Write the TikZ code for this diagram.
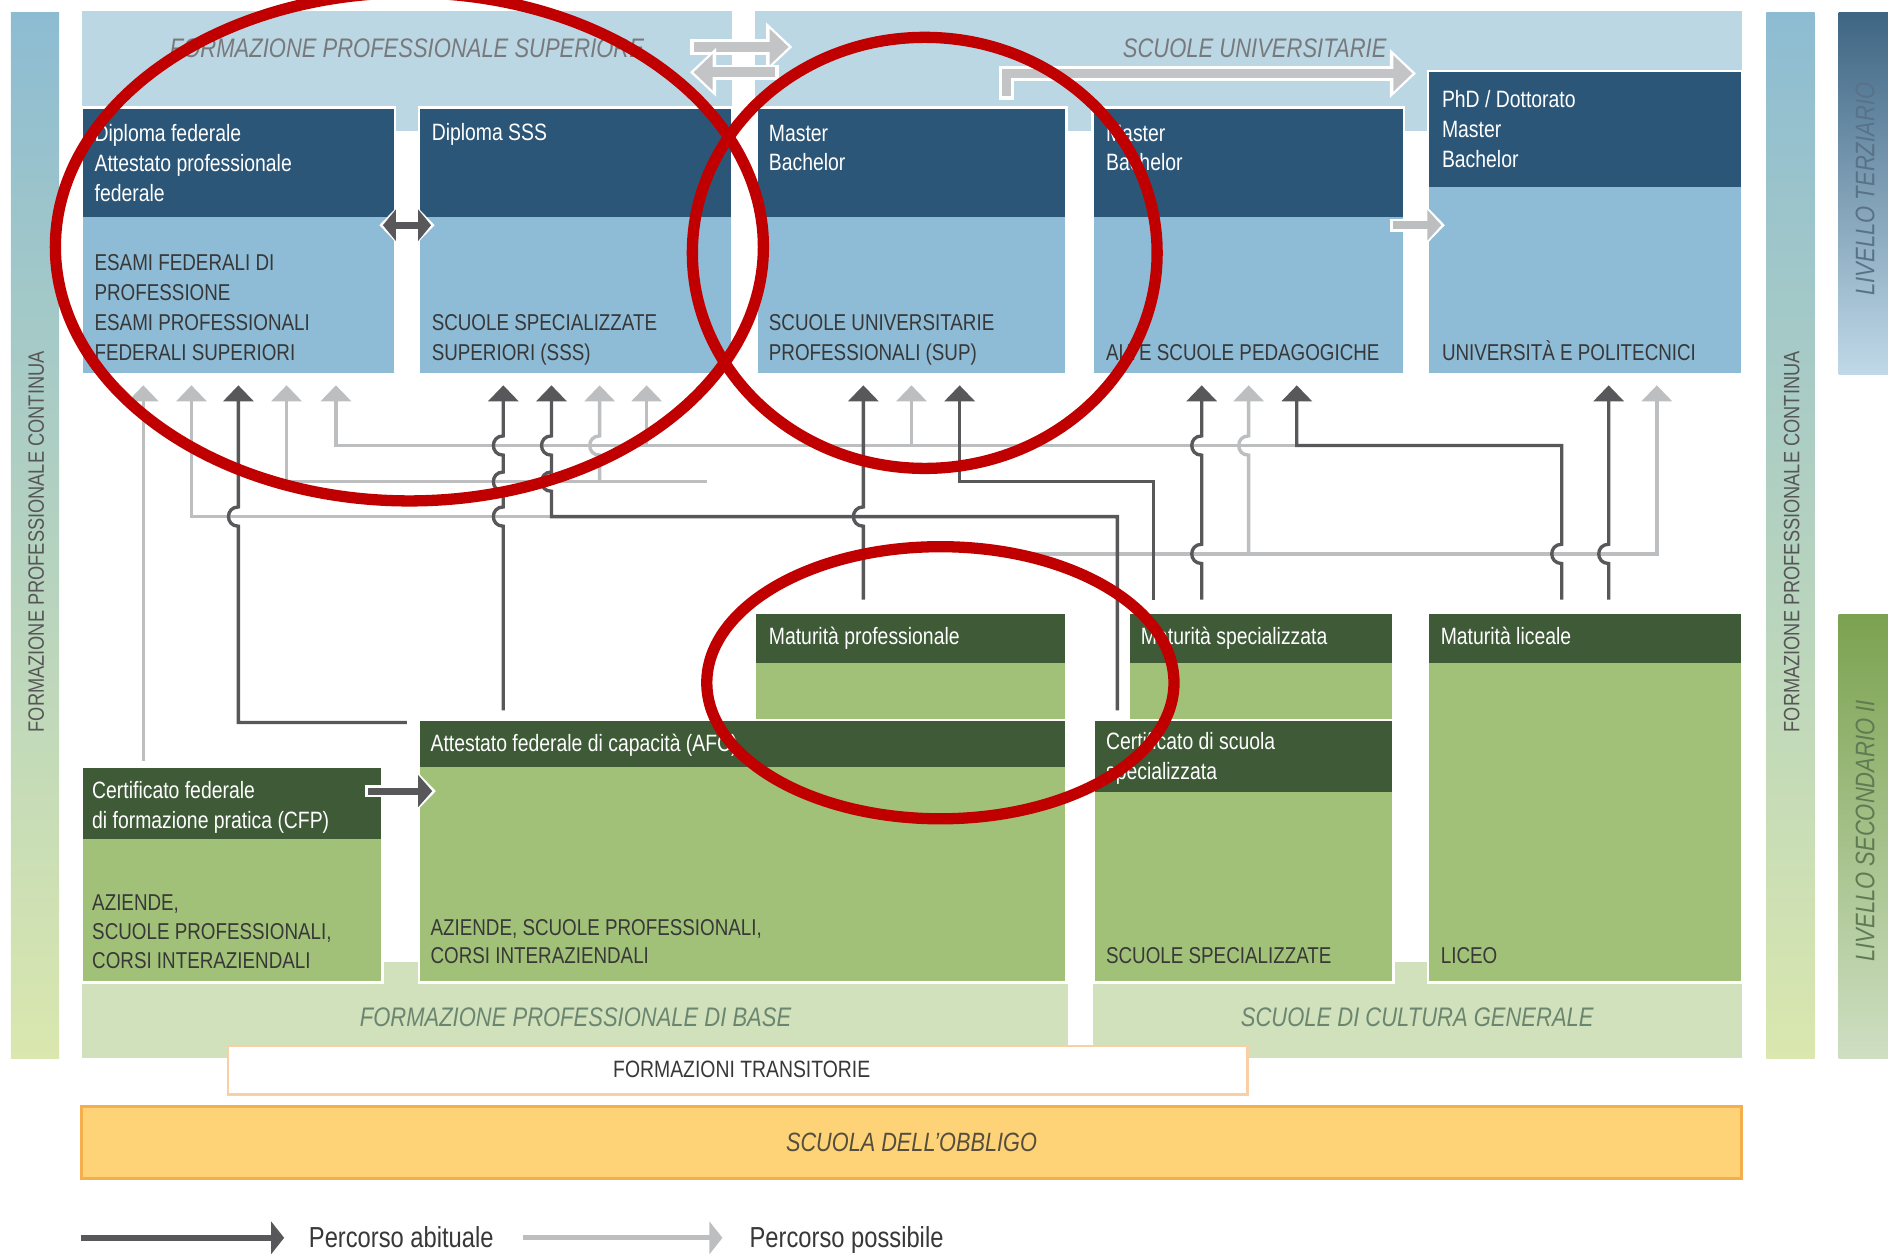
\documentclass[tikz,border=0pt]{standalone}
\usepackage{fontspec}
\setmainfont{Liberation Sans}[FakeStretch=0.82]
\usetikzlibrary{arrows.meta}
\definecolor{hdrblue}{HTML}{2C5677}
\definecolor{bodyblue}{HTML}{8EBBD5}
\definecolor{bandblue}{HTML}{BCD7E4}
\definecolor{hdrgreen}{HTML}{3E5A37}
\definecolor{bodygreen}{HTML}{A0C177}
\definecolor{bandgreen}{HTML}{D1E1BC}
\definecolor{dgray}{HTML}{58585A}
\definecolor{lgray}{HTML}{BDBEC0}
\definecolor{fatgray}{HTML}{C3C4C6}
\definecolor{tgray}{HTML}{77797C}
\definecolor{txt}{HTML}{383838}
\definecolor{ylw}{HTML}{FED377}
\definecolor{ylwb}{HTML}{F4AE4C}
\definecolor{ftb}{HTML}{F9CFA6}
\definecolor{redc}{HTML}{C00000}
\definecolor{barTop}{HTML}{8DBCD2}
\definecolor{barMid}{HTML}{B7D4C6}
\definecolor{barBot}{HTML}{DAE7AE}
\newcommand\fsz[2]{\fontsize{#1}{#2}\selectfont}
\begin{document}
\begin{tikzpicture}[x=0.012cm,y=-0.012cm,
  hop/.style args={#1/#2}{insert path={-- (#1,#2+8) .. controls (#1-11,#2+8) and (#1-11,#2-8) .. (#1,#2-8)}},
  conn/.style={line width=0.95pt,-{Triangle[length=1.6mm,width=3mm]}},
  lightc/.style={conn,draw=lgray},
  darkc/.style={conn,draw=dgray},
  hdrtxt/.style={anchor=base west,inner sep=0,align=left,text=white,font=\fsz{6.7}{8.5}},
  bodytxt/.style={anchor=base west,inner sep=0,align=left,text=txt,font=\fsz{6.5}{8.5}},
  bandtitle/.style={inner sep=0,text=tgray,font=\fsz{7.6}{9}\itshape},
  sidetxt/.style={inner sep=0,rotate=90,text=txt!85,font=\fsz{6.3}{7}},
  ellred/.style={draw=redc,line width=3.2pt}
]
\useasboundingbox (0,0) rectangle (1568,1041);
\fill[white] (0,0) rectangle (1568,1041);

% side bars
\shade[top color=barTop,middle color=barMid,bottom color=barBot] (9,10) rectangle (49,879);
\shade[top color=barTop,middle color=barMid,bottom color=barBot] (1467,10) rectangle (1507,879);
\shade[top color={rgb,255:red,62;green,101;blue,131},middle color={rgb,255:red,160;green,194;blue,214},bottom color={rgb,255:red,192;green,217;blue,232}] (1527,10) rectangle (1572,311);
\shade[top color={rgb,255:red,123;green,162;blue,79},middle color={rgb,255:red,176;green,202;blue,152},bottom color={rgb,255:red,206;green,223;blue,195}] (1527,510) rectangle (1572,879);

% bands
\fill[bandblue] (68,9) rectangle (608,109);
\fill[bandblue] (627,9) rectangle (1447,109);
\fill[bandgreen] (68,799) rectangle (887,879);
\fill[bandgreen] (908,799) rectangle (1447,879);

% blue boxes
\foreach \xa/\xb/\ya/\yh/\yb in {68/328/89/180/311, 348/608/89/180/311, 628/886/89/180/311, 907/1166/89/180/311, 1186/1447/59/155/311}{
  \fill[bodyblue] (\xa,\ya) rectangle (\xb,\yb);
  \fill[hdrblue] (\xa,\ya) rectangle (\xb,\yh);
  \draw[white,line width=0.8pt] (\xa,\ya) rectangle (\xb,\yb);
}
% green boxes
\foreach \xa/\xb/\ya/\yh/\yb in {68/318/637/697/816, 348/886/598/637/816, 627/886/509/551/598, 937/1157/509/551/598, 908/1157/598/658/816, 1186/1447/509/551/816}{
  \fill[bodygreen] (\xa,\ya) rectangle (\xb,\yb);
  \fill[hdrgreen] (\xa,\ya) rectangle (\xb,\yh);
  \draw[white,line width=0.8pt] (\xa,\ya) rectangle (\xb,\yb);
}

% transitional and compulsory school
\draw[ftb,fill=white,line width=0.6pt] (189,869) rectangle (1036,909);
\draw[ylwb,fill=ylw,line width=0.8pt] (68,919) rectangle (1446,979);

% light connectors
\draw[lightc] (119,632) -- (119,320);
\draw[lightc] (458,429) -- (159,429) -- (159,320);
\draw[lightc] (587,400) -- (238,400) -- (238,320);
\draw[lightc] (498,400) [hop=498/370] -- (498,320);
\draw[lightc] (1077,370) -- (279,370) -- (279,320);
\draw[lightc] (537,370) -- (537,320);
\draw[lightc] (757,370) -- (757,320);
\draw[lightc] (843,460) -- (1376,460) -- (1376,320);
\draw[lightc] (1037,460) [hop=1037/370] -- (1037,320);

% dark connectors
\draw[darkc] (338,600) -- (198,600) [hop=198/429] -- (198,320);
\draw[darkc] (418,590) [hop=418/429] [hop=418/400] [hop=418/370] -- (418,320);
\draw[darkc] (928,590) -- (928,429) -- (458,429) [hop=458/400] [hop=458/370] -- (458,320);
\draw[darkc] (717,498) [hop=717/429] -- (717,320);
\draw[darkc] (958,498) -- (958,400) -- (797,400) -- (797,320);
\draw[darkc] (998,498) [hop=998/460] [hop=998/370] -- (998,320);
\draw[darkc] (1297,498) [hop=1297/460] -- (1297,370) -- (1077,370) -- (1077,320);
\draw[darkc] (1336,498) [hop=1336/460] -- (1336,320);

% thick arrows with white outline
\draw[white,line width=4.3pt,-{Triangle[length=2.6mm,width=4.7mm]}] (573,39) -- (658,39);
\draw[fatgray,line width=2.7pt,-{Triangle[length=1.9mm,width=3.5mm]}] (576,39) -- (655,39);
\draw[white,line width=4.3pt,-{Triangle[length=2.6mm,width=4.7mm]}] (647,60) -- (573,60);
\draw[fatgray,line width=2.7pt,-{Triangle[length=1.9mm,width=3.5mm]}] (644,60) -- (576,60);
\draw[white,line width=4.3pt,-{Triangle[length=2.6mm,width=4.7mm]}] (836,83) -- (836,61) -- (1176,61);
\draw[fatgray,line width=2.7pt,-{Triangle[length=1.9mm,width=3.5mm]}] (836,80) -- (836,61) -- (1173,61);
\draw[white,line width=3.6pt,-{Triangle[length=2mm,width=4mm]}] (1154,187) -- (1200,187);
\draw[lgray,line width=2.1pt,-{Triangle[length=1.4mm,width=3mm]}] (1157,187) -- (1197,187);
\draw[white,line width=3.6pt,{Triangle[length=2mm,width=4mm]}-{Triangle[length=2mm,width=4mm]}] (315,187) -- (361,187);
\draw[dgray,line width=2pt,{Triangle[length=1.3mm,width=3.1mm]}-{Triangle[length=1.3mm,width=3.1mm]}] (318,187) -- (358,187);
\draw[white,line width=3.6pt,-{Triangle[length=2mm,width=4mm]}] (303,657) -- (362,657);
\draw[dgray,line width=2pt,-{Triangle[length=1.4mm,width=3.1mm]}] (306,657) -- (359,657);

% legend
\draw[dgray,line width=1.8pt,-{Triangle[length=1.3mm,width=3.2mm]}] (67,1028) -- (236,1028);
\draw[lgray,line width=1.4pt,-{Triangle[length=1.3mm,width=3.2mm]}] (434,1028) -- (600,1028);
\node[anchor=base west,inner sep=0,text=txt,font=\fsz{8.2}{9}] (leg1) at (256,1036) {Percorso abituale};
\node[anchor=base west,inner sep=0,text=txt,font=\fsz{8.2}{9}] (leg2) at (622,1036) {Percorso possibile};

% band titles
\node[bandtitle] (fps) at (338,40) {FORMAZIONE PROFESSIONALE SUPERIORE};
\node[bandtitle] (su) at (1042,40) {SCUOLE UNIVERSITARIE};
\node[bandtitle,text=tgray!90!green] (fpb) at (478,845) {FORMAZIONE PROFESSIONALE DI BASE};
\node[bandtitle,text=tgray!90!green] (scg) at (1177,845) {SCUOLE DI CULTURA GENERALE};
\node[inner sep=0,text=txt,font=\fsz{6.7}{8}] (ft) at (616,888) {FORMAZIONI TRANSITORIE};
\node[inner sep=0,text={rgb,255:red,85;green,78;blue,62},font=\fsz{7.5}{9}\itshape] (sdo) at (757,949) {SCUOLA DELL’OBBLIGO};

% side texts
\node[sidetxt] (fpc1) at (30,450) {FORMAZIONE PROFESSIONALE CONTINUA};
\node[sidetxt] (fpc2) at (1488,450) {FORMAZIONE PROFESSIONALE CONTINUA};
\node[inner sep=0,rotate=90,text={rgb,255:red,88;green,114;blue,136},font=\fsz{7.6}{9}\itshape] (lt) at (1549,157) {LIVELLO TERZIARIO};
\node[inner sep=0,rotate=90,text={rgb,255:red,96;green,122;blue,84},font=\fsz{7.6}{9}\itshape] (ls) at (1549,690) {LIVELLO SECONDARIO II};

% box texts (tertiary); base anchor = baseline of the last line
\node[hdrtxt] (h1) at (78,167) {Diploma federale\\Attestato professionale\\federale};
\node[bodytxt] (b1) at (78,299) {ESAMI FEDERALI DI\\PROFESSIONE\\ESAMI PROFESSIONALI\\FEDERALI SUPERIORI};
\node[hdrtxt] (h2) at (358,117) {Diploma SSS};
\node[bodytxt] (b2) at (358,299) {SCUOLE SPECIALIZZATE\\SUPERIORI (SSS)};
\node[hdrtxt] (h3) at (638,142) {Master\\Bachelor};
\node[bodytxt] (b3) at (638,299) {SCUOLE UNIVERSITARIE\\PROFESSIONALI (SUP)};
\node[hdrtxt] (h4) at (918,142) {Master\\Bachelor};
\node[bodytxt] (b4) at (918,299) {ALTE SCUOLE PEDAGOGICHE};
\node[hdrtxt] (h5) at (1197,139) {PhD / Dottorato\\Master\\Bachelor};
\node[bodytxt] (b5) at (1197,299) {UNIVERSITÀ E POLITECNICI};

% box texts (secondary)
\node[hdrtxt] (h6) at (76,688) {Certificato federale\\di formazione pratica (CFP)};
\node[bodytxt,font=\fsz{6.5}{8.2}] (b6) at (76,804) {AZIENDE,\\SCUOLE PROFESSIONALI,\\CORSI INTERAZIENDALI};
\node[hdrtxt] (h7) at (357,624) {Attestato federale di capacità (AFC)};
\node[bodytxt,font=\fsz{6.5}{8}] (b7) at (357,800) {AZIENDE, SCUOLE PROFESSIONALI,\\CORSI INTERAZIENDALI};
\node[hdrtxt] (h8) at (638,535) {Maturità professionale};
\node[hdrtxt] (h9) at (947,535) {Maturità specializzata};
\node[hdrtxt] (h10) at (918,647) {Certificato di scuola\\specializzata};
\node[bodytxt] (b10) at (918,800) {SCUOLE SPECIALIZZATE};
\node[hdrtxt] (h11) at (1196,535) {Maturità liceale};
\node[bodytxt] (b11) at (1196,800) {LICEO};

% red annotation ellipses
\draw[ellred] (340,205) ellipse [x radius=294,y radius=211];
\draw[ellred] (768,210) ellipse [x radius=193,y radius=179];
\draw[ellred] (781,567) ellipse [x radius=194,y radius=113];
\end{tikzpicture}
\end{document}
